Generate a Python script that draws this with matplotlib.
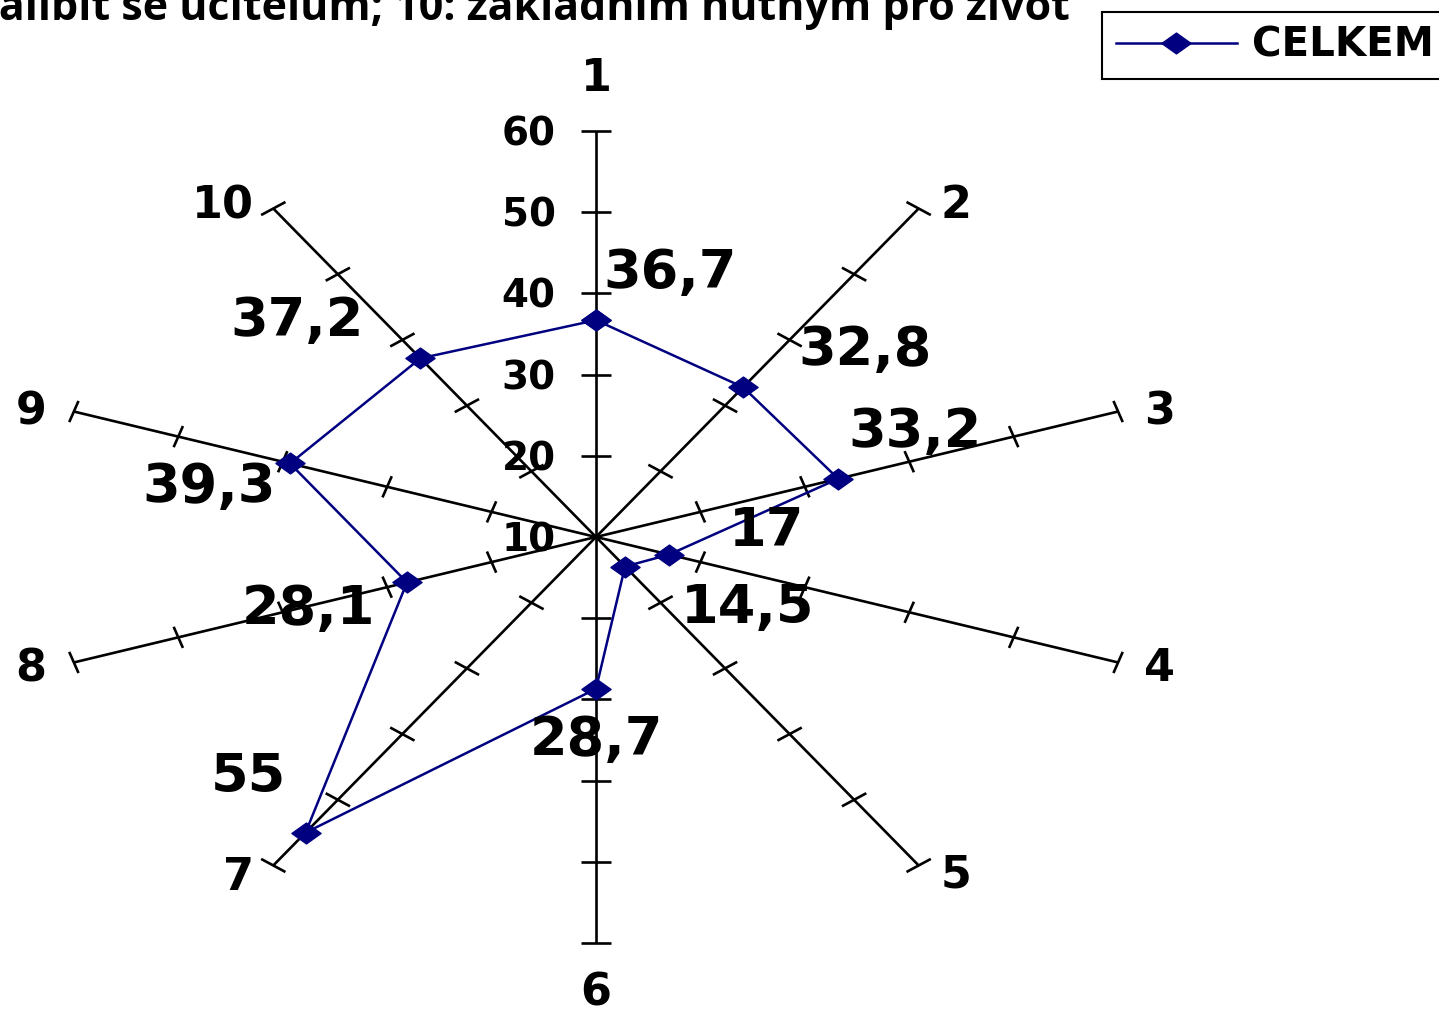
import numpy as np
import matplotlib
matplotlib.use("Agg")
import matplotlib.pyplot as plt
from matplotlib.lines import Line2D
from matplotlib.collections import LineCollection
from matplotlib.path import Path

# ---- data ----
categories = ["1", "2", "3", "4", "5", "6", "7", "8", "9", "10"]
values = [36.7, 32.8, 33.2, 17.0, 14.5, 28.7, 55.0, 28.1, 39.3, 37.2]
value_labels = ["36,7", "32,8", "33,2", "17", "14,5", "28,7", "55", "28,1", "39,3", "37,2"]
scale_ticks = [10, 20, 30, 40, 50, 60]
series_name = "CELKEM"
title_text = "zalíbit se učitelům; 10: základním nutným pro život"

rmin, rmax = 10, 60
NAVY = "#000080"

fig = plt.figure(figsize=(14.39, 10.13), dpi=100)
ax = fig.add_axes([0, 0, 1, 1])
ax.set_xlim(-54.28, 76.78)
ax.set_ylim(-58.62, 66.13)
ax.axis("off")

n = len(categories)
theta = np.deg2rad(np.arange(n) * 360.0 / n)
sx, sy = np.sin(theta), np.cos(theta)

# axes spokes
for i in range(n):
    ax.plot([0, (rmax - rmin) * sx[i]], [0, (rmax - rmin) * sy[i]],
            color="black", lw=1.9, solid_capstyle="butt", zorder=1)

# tick marks
h = 1.37
segs = []
for i in range(n):
    for t in scale_ticks[1:]:
        r = t - rmin
        cx, cy = r * sx[i], r * sy[i]
        px, py = sy[i], -sx[i]
        segs.append([(cx - h * px, cy - h * py), (cx + h * px, cy + h * py)])
ax.add_collection(LineCollection(segs, colors="black", linewidths=1.9, zorder=1))

# scale labels on axis 1
for t in scale_ticks:
    ax.annotate(str(t), xy=(0, t - rmin), xytext=(-29, -2.5), textcoords="offset points",
                ha="right", va="center", fontsize=28, fontweight="bold",
                family="DejaVu Sans", zorder=2)

# category labels
cat_offsets = [(0, 38), (27, 2), (30, 0), (30, -4), (27, -7), (0, -36),
               (-25, -9), (-31, -5), (-31, 0), (-36, 2)]
for i in range(n):
    ax.annotate(categories[i], xy=((rmax - rmin) * sx[i], (rmax - rmin) * sy[i]),
                xytext=cat_offsets[i], textcoords="offset points",
                ha="center", va="center", fontsize=32, fontweight="bold",
                family="DejaVu Sans")

# series
r_vals = np.array(values) - rmin
xs = np.append(r_vals * sx, r_vals[0] * sx[0])
ys = np.append(r_vals * sy, r_vals[0] * sy[0])
diamond = Path([(-1.4, 0), (0, 1), (1.4, 0), (0, -1), (-1.4, 0)],
               [Path.MOVETO, Path.LINETO, Path.LINETO, Path.LINETO, Path.CLOSEPOLY])
line, = ax.plot(xs, ys, color=NAVY, lw=1.8, marker=diamond, markersize=21,
                markerfacecolor=NAVY, markeredgecolor=NAVY, zorder=3)

# value labels
val_offsets = [(53, 34), (88, 27), (55, 34), (70, 17), (88, -30), (0, -37),
               (-41, 40), (-71, -19), (-58, -17), (-89, 27)]
for i in range(n):
    ax.annotate(value_labels[i], xy=(r_vals[i] * sx[i], r_vals[i] * sy[i]),
                xytext=val_offsets[i], textcoords="offset points",
                ha="center", va="center", fontsize=39, fontweight="bold",
                family="DejaVu Sans", zorder=4)

# title (cut at top, as in the source)
fig.text(1070 / 1439, 1 - 20 / 1013, title_text, ha="right", va="baseline",
         fontsize=31, fontweight="bold", family="Open Sans")

# legend
leg_handle = Line2D([], [], color=NAVY, lw=1.8, marker=diamond, markersize=21,
                    markerfacecolor=NAVY, markeredgecolor=NAVY)
leg = ax.legend([leg_handle], [series_name], loc="upper left",
                bbox_to_anchor=(1102 / 1439, 1 - 12 / 1013), bbox_transform=fig.transFigure,
                borderaxespad=0.0,
                frameon=True, fancybox=False, edgecolor="black", framealpha=1,
                borderpad=0.34, handlelength=3.0, handletextpad=0.38,
                prop={"family": "DejaVu Sans", "weight": "bold", "size": 29})
leg.get_frame().set_linewidth(1.5)

fig.savefig("out.png", dpi=100)
